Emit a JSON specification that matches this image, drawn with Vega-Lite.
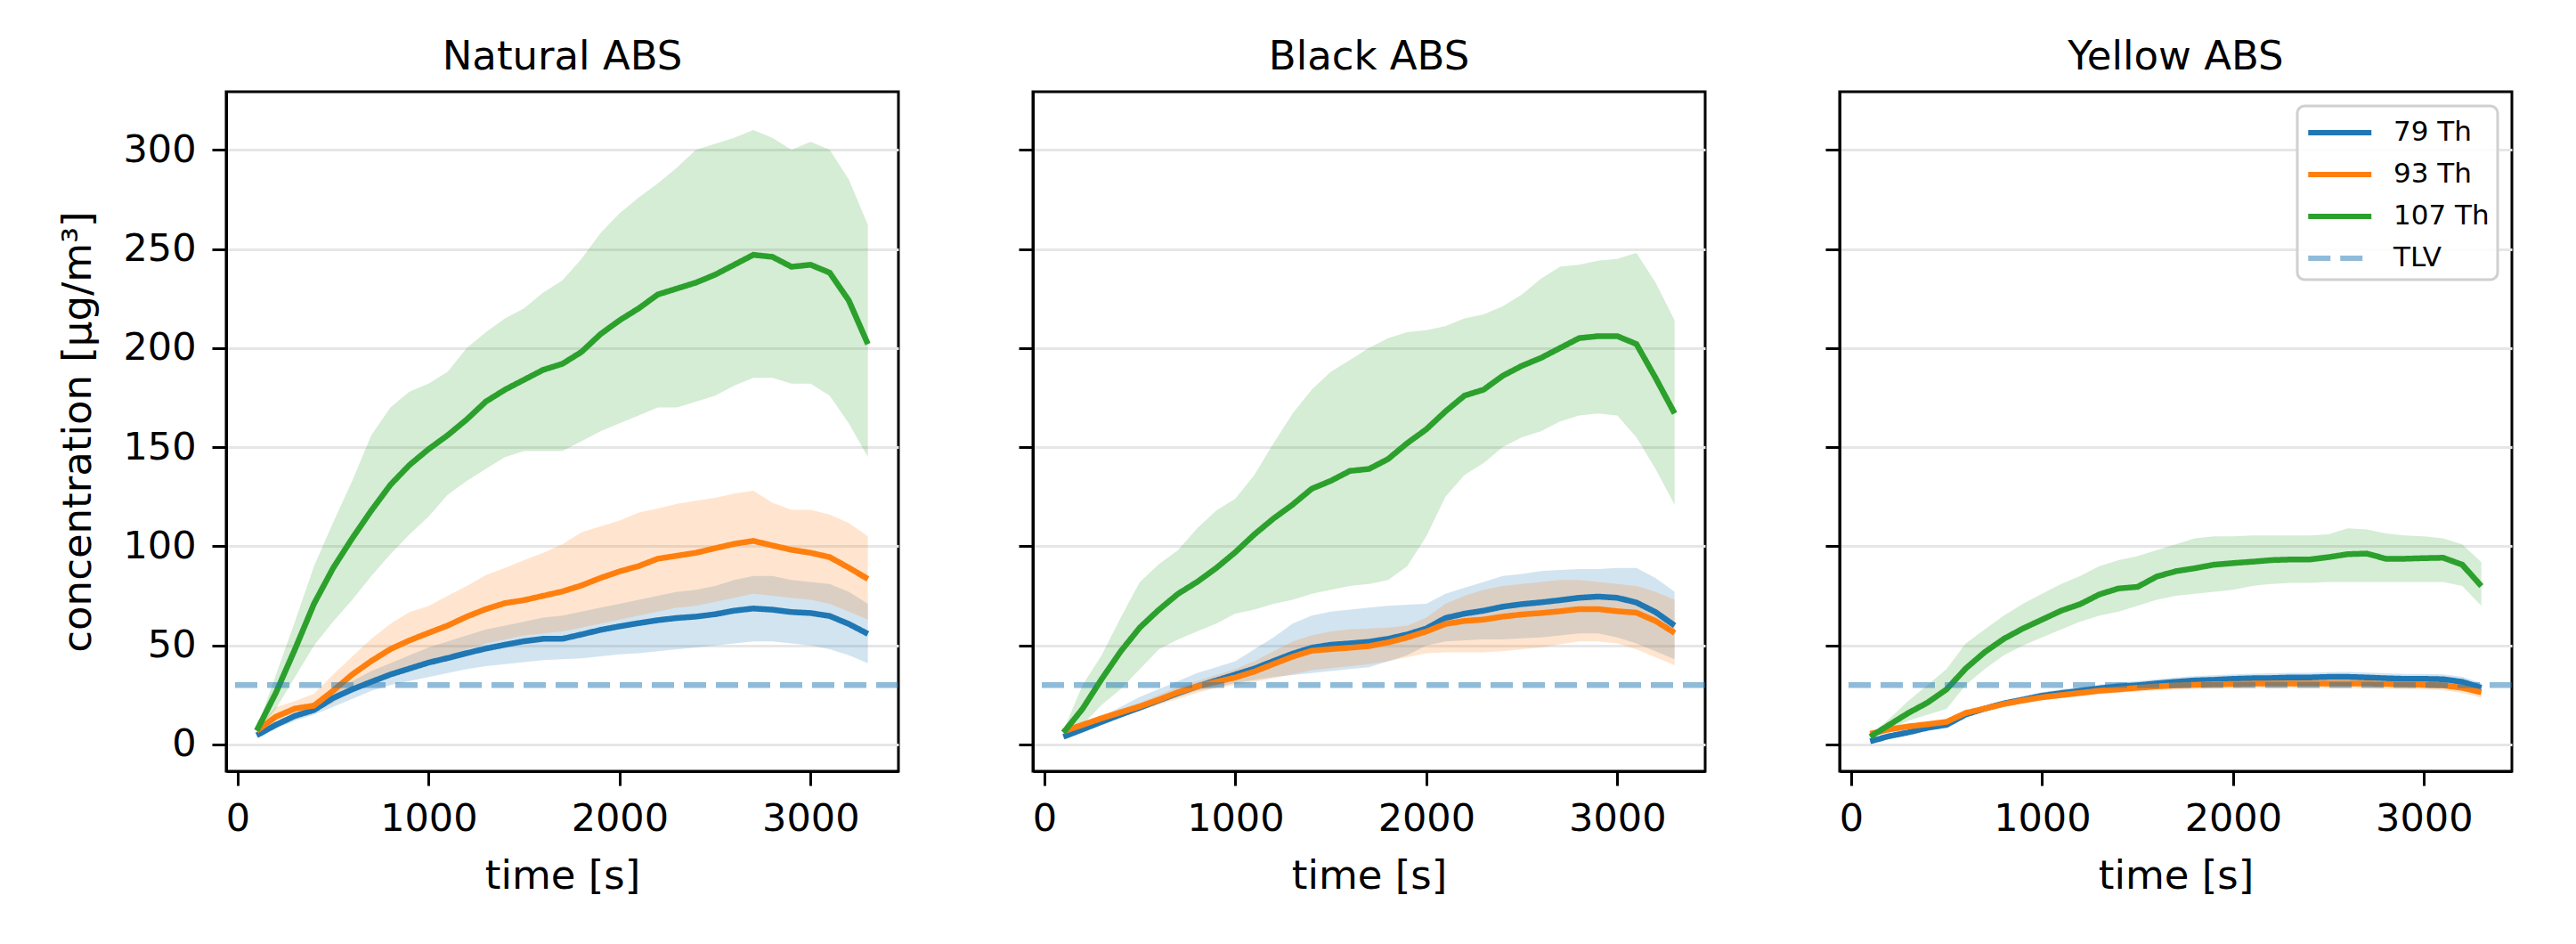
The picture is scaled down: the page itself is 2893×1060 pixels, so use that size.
{
"$schema": "https://vega.github.io/schema/vega-lite/v6.json",
"padding": {"left": 64, "top": 40, "right": 73, "bottom": 46},
"background": "white",
"config": {
  "font": "DejaVu Sans",
  "view": {"stroke": "black", "strokeWidth": 3},
  "axis": {"domainColor": "black", "domainWidth": 3, "tickColor": "black", "tickWidth": 3, "tickSize": 16,
           "labelFont": "DejaVu Sans", "labelFontSize": 43, "labelColor": "black",
           "titleFont": "DejaVu Sans", "titleFontSize": 45, "titleFontWeight": "normal", "titleColor": "black",
           "gridColor": "#e6e6e6", "gridWidth": 3},
  "title": {"font": "DejaVu Sans", "fontSize": 45, "fontWeight": "normal", "color": "black", "baseline": "alphabetic", "offset": 16}
},
"data": {"values": [
{"p":"Natural ABS","s":"79 Th","t":100,"m":4.6,"lo":3.5,"hi":5.5},
{"p":"Natural ABS","s":"79 Th","t":200,"m":9.9,"lo":8,"hi":11},
{"p":"Natural ABS","s":"79 Th","t":300,"m":14.4,"lo":12,"hi":16},
{"p":"Natural ABS","s":"79 Th","t":400,"m":17.4,"lo":15,"hi":19},
{"p":"Natural ABS","s":"79 Th","t":500,"m":23.4,"lo":19,"hi":27},
{"p":"Natural ABS","s":"79 Th","t":600,"m":27.8,"lo":23,"hi":32},
{"p":"Natural ABS","s":"79 Th","t":700,"m":31.6,"lo":27,"hi":37},
{"p":"Natural ABS","s":"79 Th","t":800,"m":35.3,"lo":30,"hi":41},
{"p":"Natural ABS","s":"79 Th","t":900,"m":38.3,"lo":32,"hi":45},
{"p":"Natural ABS","s":"79 Th","t":1000,"m":41.3,"lo":34,"hi":49},
{"p":"Natural ABS","s":"79 Th","t":1100,"m":43.6,"lo":36,"hi":52},
{"p":"Natural ABS","s":"79 Th","t":1200,"m":46.1,"lo":38,"hi":55},
{"p":"Natural ABS","s":"79 Th","t":1300,"m":48.4,"lo":39.5,"hi":58},
{"p":"Natural ABS","s":"79 Th","t":1400,"m":50.3,"lo":40.5,"hi":60},
{"p":"Natural ABS","s":"79 Th","t":1500,"m":52.1,"lo":41.5,"hi":62},
{"p":"Natural ABS","s":"79 Th","t":1600,"m":53.3,"lo":42.5,"hi":64},
{"p":"Natural ABS","s":"79 Th","t":1700,"m":53.3,"lo":43,"hi":65},
{"p":"Natural ABS","s":"79 Th","t":1800,"m":55.5,"lo":43.5,"hi":67},
{"p":"Natural ABS","s":"79 Th","t":1900,"m":57.8,"lo":44.5,"hi":69},
{"p":"Natural ABS","s":"79 Th","t":2000,"m":59.6,"lo":45.5,"hi":71},
{"p":"Natural ABS","s":"79 Th","t":2100,"m":61.2,"lo":46,"hi":73},
{"p":"Natural ABS","s":"79 Th","t":2200,"m":62.7,"lo":47,"hi":75},
{"p":"Natural ABS","s":"79 Th","t":2300,"m":63.8,"lo":48,"hi":77},
{"p":"Natural ABS","s":"79 Th","t":2400,"m":64.5,"lo":49,"hi":78},
{"p":"Natural ABS","s":"79 Th","t":2500,"m":65.7,"lo":50,"hi":80},
{"p":"Natural ABS","s":"79 Th","t":2600,"m":67.5,"lo":51,"hi":83},
{"p":"Natural ABS","s":"79 Th","t":2700,"m":68.6,"lo":52,"hi":85},
{"p":"Natural ABS","s":"79 Th","t":2800,"m":68.0,"lo":52,"hi":85},
{"p":"Natural ABS","s":"79 Th","t":2900,"m":66.8,"lo":51,"hi":83},
{"p":"Natural ABS","s":"79 Th","t":3000,"m":66.3,"lo":50,"hi":82},
{"p":"Natural ABS","s":"79 Th","t":3100,"m":64.8,"lo":48,"hi":81},
{"p":"Natural ABS","s":"79 Th","t":3200,"m":60.8,"lo":45,"hi":77},
{"p":"Natural ABS","s":"79 Th","t":3300,"m":55.8,"lo":41,"hi":71},
{"p":"Natural ABS","s":"93 Th","t":100,"m":6.9,"lo":5.5,"hi":8.4},
{"p":"Natural ABS","s":"93 Th","t":200,"m":14,"lo":12,"hi":18.9},
{"p":"Natural ABS","s":"93 Th","t":300,"m":18.1,"lo":14,"hi":21.9},
{"p":"Natural ABS","s":"93 Th","t":400,"m":19.6,"lo":16,"hi":25.6},
{"p":"Natural ABS","s":"93 Th","t":500,"m":27.1,"lo":21,"hi":35.3},
{"p":"Natural ABS","s":"93 Th","t":600,"m":35.3,"lo":27,"hi":44.3},
{"p":"Natural ABS","s":"93 Th","t":700,"m":42.1,"lo":32,"hi":53.3},
{"p":"Natural ABS","s":"93 Th","t":800,"m":48.1,"lo":36,"hi":60.8},
{"p":"Natural ABS","s":"93 Th","t":900,"m":52.5,"lo":39,"hi":66.8},
{"p":"Natural ABS","s":"93 Th","t":1000,"m":56.3,"lo":42,"hi":69.8},
{"p":"Natural ABS","s":"93 Th","t":1100,"m":60.0,"lo":45,"hi":75},
{"p":"Natural ABS","s":"93 Th","t":1200,"m":64.5,"lo":48,"hi":80},
{"p":"Natural ABS","s":"93 Th","t":1300,"m":68.3,"lo":51,"hi":85.5},
{"p":"Natural ABS","s":"93 Th","t":1400,"m":71.3,"lo":53,"hi":89},
{"p":"Natural ABS","s":"93 Th","t":1500,"m":72.8,"lo":55,"hi":93},
{"p":"Natural ABS","s":"93 Th","t":1600,"m":75.0,"lo":56,"hi":96.7},
{"p":"Natural ABS","s":"93 Th","t":1700,"m":77.2,"lo":57,"hi":101},
{"p":"Natural ABS","s":"93 Th","t":1800,"m":80.2,"lo":59,"hi":107},
{"p":"Natural ABS","s":"93 Th","t":1900,"m":84.0,"lo":61,"hi":110},
{"p":"Natural ABS","s":"93 Th","t":2000,"m":87.3,"lo":63,"hi":113},
{"p":"Natural ABS","s":"93 Th","t":2100,"m":90.0,"lo":65,"hi":117},
{"p":"Natural ABS","s":"93 Th","t":2200,"m":93.7,"lo":67,"hi":119},
{"p":"Natural ABS","s":"93 Th","t":2300,"m":95.2,"lo":69,"hi":121.4},
{"p":"Natural ABS","s":"93 Th","t":2400,"m":96.7,"lo":70,"hi":123},
{"p":"Natural ABS","s":"93 Th","t":2500,"m":99.0,"lo":72,"hi":124.4},
{"p":"Natural ABS","s":"93 Th","t":2600,"m":101.2,"lo":74,"hi":126.6},
{"p":"Natural ABS","s":"93 Th","t":2700,"m":102.7,"lo":76,"hi":128},
{"p":"Natural ABS","s":"93 Th","t":2800,"m":100.4,"lo":75,"hi":122},
{"p":"Natural ABS","s":"93 Th","t":2900,"m":98.2,"lo":74,"hi":118.4},
{"p":"Natural ABS","s":"93 Th","t":3000,"m":96.7,"lo":73,"hi":118.4},
{"p":"Natural ABS","s":"93 Th","t":3100,"m":94.5,"lo":71,"hi":116},
{"p":"Natural ABS","s":"93 Th","t":3200,"m":89.2,"lo":67,"hi":111.7},
{"p":"Natural ABS","s":"93 Th","t":3300,"m":83.5,"lo":63,"hi":105},
{"p":"Natural ABS","s":"107 Th","t":100,"m":7,"lo":6,"hi":8},
{"p":"Natural ABS","s":"107 Th","t":200,"m":26,"lo":18,"hi":35},
{"p":"Natural ABS","s":"107 Th","t":300,"m":48,"lo":34,"hi":62},
{"p":"Natural ABS","s":"107 Th","t":400,"m":71,"lo":50,"hi":90},
{"p":"Natural ABS","s":"107 Th","t":500,"m":89,"lo":62,"hi":112},
{"p":"Natural ABS","s":"107 Th","t":600,"m":104,"lo":73,"hi":133},
{"p":"Natural ABS","s":"107 Th","t":700,"m":118,"lo":85,"hi":156},
{"p":"Natural ABS","s":"107 Th","t":800,"m":131,"lo":96,"hi":170},
{"p":"Natural ABS","s":"107 Th","t":900,"m":141,"lo":106,"hi":178},
{"p":"Natural ABS","s":"107 Th","t":1000,"m":149,"lo":115,"hi":182},
{"p":"Natural ABS","s":"107 Th","t":1100,"m":156,"lo":126,"hi":188},
{"p":"Natural ABS","s":"107 Th","t":1200,"m":164,"lo":133,"hi":200},
{"p":"Natural ABS","s":"107 Th","t":1300,"m":173,"lo":139,"hi":208},
{"p":"Natural ABS","s":"107 Th","t":1400,"m":179,"lo":145,"hi":215},
{"p":"Natural ABS","s":"107 Th","t":1500,"m":184,"lo":148,"hi":220},
{"p":"Natural ABS","s":"107 Th","t":1600,"m":189,"lo":148,"hi":228},
{"p":"Natural ABS","s":"107 Th","t":1700,"m":192,"lo":148,"hi":234},
{"p":"Natural ABS","s":"107 Th","t":1800,"m":198,"lo":153,"hi":245},
{"p":"Natural ABS","s":"107 Th","t":1900,"m":207,"lo":158,"hi":258},
{"p":"Natural ABS","s":"107 Th","t":2000,"m":214,"lo":162,"hi":268},
{"p":"Natural ABS","s":"107 Th","t":2100,"m":220,"lo":166,"hi":276},
{"p":"Natural ABS","s":"107 Th","t":2200,"m":227,"lo":170,"hi":283},
{"p":"Natural ABS","s":"107 Th","t":2300,"m":230,"lo":170,"hi":291},
{"p":"Natural ABS","s":"107 Th","t":2400,"m":233,"lo":173,"hi":300},
{"p":"Natural ABS","s":"107 Th","t":2500,"m":237,"lo":176,"hi":303},
{"p":"Natural ABS","s":"107 Th","t":2600,"m":242,"lo":181,"hi":306},
{"p":"Natural ABS","s":"107 Th","t":2700,"m":247,"lo":185,"hi":310},
{"p":"Natural ABS","s":"107 Th","t":2800,"m":246,"lo":185,"hi":306},
{"p":"Natural ABS","s":"107 Th","t":2900,"m":241,"lo":182,"hi":300},
{"p":"Natural ABS","s":"107 Th","t":3000,"m":242,"lo":182,"hi":304},
{"p":"Natural ABS","s":"107 Th","t":3100,"m":238,"lo":176,"hi":300},
{"p":"Natural ABS","s":"107 Th","t":3200,"m":224,"lo":162,"hi":285},
{"p":"Natural ABS","s":"107 Th","t":3300,"m":202,"lo":145,"hi":262},
{"p":"Black ABS","s":"79 Th","t":100,"m":3.9,"lo":3,"hi":4.5},
{"p":"Black ABS","s":"79 Th","t":200,"m":7.6,"lo":6.5,"hi":9},
{"p":"Black ABS","s":"79 Th","t":300,"m":11.4,"lo":10,"hi":14},
{"p":"Black ABS","s":"79 Th","t":400,"m":15.1,"lo":13.5,"hi":19},
{"p":"Black ABS","s":"79 Th","t":500,"m":18.6,"lo":17,"hi":24},
{"p":"Black ABS","s":"79 Th","t":600,"m":22.3,"lo":20.5,"hi":28},
{"p":"Black ABS","s":"79 Th","t":700,"m":25.9,"lo":24,"hi":32},
{"p":"Black ABS","s":"79 Th","t":800,"m":29.3,"lo":27,"hi":36},
{"p":"Black ABS","s":"79 Th","t":900,"m":32.3,"lo":29,"hi":39},
{"p":"Black ABS","s":"79 Th","t":1000,"m":35.3,"lo":31,"hi":42},
{"p":"Black ABS","s":"79 Th","t":1100,"m":38.3,"lo":32.5,"hi":48},
{"p":"Black ABS","s":"79 Th","t":1200,"m":42.1,"lo":34,"hi":54},
{"p":"Black ABS","s":"79 Th","t":1300,"m":45.8,"lo":35,"hi":61},
{"p":"Black ABS","s":"79 Th","t":1400,"m":48.8,"lo":36,"hi":65},
{"p":"Black ABS","s":"79 Th","t":1500,"m":50.3,"lo":37,"hi":67},
{"p":"Black ABS","s":"79 Th","t":1600,"m":51.0,"lo":38,"hi":68},
{"p":"Black ABS","s":"79 Th","t":1700,"m":51.8,"lo":39,"hi":69},
{"p":"Black ABS","s":"79 Th","t":1800,"m":53.3,"lo":42,"hi":70},
{"p":"Black ABS","s":"79 Th","t":1900,"m":55.5,"lo":45,"hi":70.5},
{"p":"Black ABS","s":"79 Th","t":2000,"m":58.5,"lo":50,"hi":71},
{"p":"Black ABS","s":"79 Th","t":2100,"m":63.8,"lo":52,"hi":76},
{"p":"Black ABS","s":"79 Th","t":2200,"m":66.0,"lo":52.5,"hi":79},
{"p":"Black ABS","s":"79 Th","t":2300,"m":67.5,"lo":53,"hi":82},
{"p":"Black ABS","s":"79 Th","t":2400,"m":69.5,"lo":53,"hi":85},
{"p":"Black ABS","s":"79 Th","t":2500,"m":70.8,"lo":53.5,"hi":86},
{"p":"Black ABS","s":"79 Th","t":2600,"m":71.7,"lo":54,"hi":87.5},
{"p":"Black ABS","s":"79 Th","t":2700,"m":72.8,"lo":55,"hi":88},
{"p":"Black ABS","s":"79 Th","t":2800,"m":74.0,"lo":56,"hi":88.5},
{"p":"Black ABS","s":"79 Th","t":2900,"m":74.6,"lo":56,"hi":88.5},
{"p":"Black ABS","s":"79 Th","t":3000,"m":74.0,"lo":54,"hi":89},
{"p":"Black ABS","s":"79 Th","t":3100,"m":71.6,"lo":51,"hi":89},
{"p":"Black ABS","s":"79 Th","t":3200,"m":66.8,"lo":47,"hi":84},
{"p":"Black ABS","s":"79 Th","t":3300,"m":60.0,"lo":43,"hi":77},
{"p":"Black ABS","s":"93 Th","t":100,"m":6.6,"lo":6,"hi":7},
{"p":"Black ABS","s":"93 Th","t":200,"m":9.9,"lo":8.5,"hi":11},
{"p":"Black ABS","s":"93 Th","t":300,"m":13.2,"lo":11.5,"hi":15},
{"p":"Black ABS","s":"93 Th","t":400,"m":16.2,"lo":14,"hi":18},
{"p":"Black ABS","s":"93 Th","t":500,"m":19.2,"lo":17,"hi":21},
{"p":"Black ABS","s":"93 Th","t":600,"m":22.6,"lo":20,"hi":25},
{"p":"Black ABS","s":"93 Th","t":700,"m":26.3,"lo":23,"hi":29},
{"p":"Black ABS","s":"93 Th","t":800,"m":29.3,"lo":26,"hi":32},
{"p":"Black ABS","s":"93 Th","t":900,"m":31.6,"lo":28.5,"hi":35},
{"p":"Black ABS","s":"93 Th","t":1000,"m":33.8,"lo":30,"hi":38},
{"p":"Black ABS","s":"93 Th","t":1100,"m":36.8,"lo":31.5,"hi":42},
{"p":"Black ABS","s":"93 Th","t":1200,"m":40.6,"lo":33.5,"hi":47},
{"p":"Black ABS","s":"93 Th","t":1300,"m":44.3,"lo":35.5,"hi":52},
{"p":"Black ABS","s":"93 Th","t":1400,"m":47.3,"lo":37.5,"hi":55},
{"p":"Black ABS","s":"93 Th","t":1500,"m":48.1,"lo":38.5,"hi":57},
{"p":"Black ABS","s":"93 Th","t":1600,"m":48.8,"lo":39.5,"hi":58},
{"p":"Black ABS","s":"93 Th","t":1700,"m":49.6,"lo":40.5,"hi":58.5},
{"p":"Black ABS","s":"93 Th","t":1800,"m":51.5,"lo":42,"hi":59},
{"p":"Black ABS","s":"93 Th","t":1900,"m":54.0,"lo":44,"hi":60},
{"p":"Black ABS","s":"93 Th","t":2000,"m":57.0,"lo":46,"hi":64},
{"p":"Black ABS","s":"93 Th","t":2100,"m":60.8,"lo":46.5,"hi":71},
{"p":"Black ABS","s":"93 Th","t":2200,"m":62.3,"lo":46.5,"hi":75},
{"p":"Black ABS","s":"93 Th","t":2300,"m":63.0,"lo":46.5,"hi":78},
{"p":"Black ABS","s":"93 Th","t":2400,"m":64.5,"lo":47,"hi":80},
{"p":"Black ABS","s":"93 Th","t":2500,"m":65.6,"lo":48,"hi":81},
{"p":"Black ABS","s":"93 Th","t":2600,"m":66.3,"lo":49,"hi":82},
{"p":"Black ABS","s":"93 Th","t":2700,"m":67.2,"lo":50.5,"hi":83},
{"p":"Black ABS","s":"93 Th","t":2800,"m":68.3,"lo":52,"hi":83},
{"p":"Black ABS","s":"93 Th","t":2900,"m":68.3,"lo":52,"hi":82},
{"p":"Black ABS","s":"93 Th","t":3000,"m":67.2,"lo":51,"hi":81},
{"p":"Black ABS","s":"93 Th","t":3100,"m":66.5,"lo":48,"hi":80},
{"p":"Black ABS","s":"93 Th","t":3200,"m":62.3,"lo":44,"hi":77},
{"p":"Black ABS","s":"93 Th","t":3300,"m":56.3,"lo":40,"hi":73},
{"p":"Black ABS","s":"107 Th","t":100,"m":6,"lo":5,"hi":7},
{"p":"Black ABS","s":"107 Th","t":200,"m":18,"lo":10,"hi":30},
{"p":"Black ABS","s":"107 Th","t":300,"m":33,"lo":20,"hi":45},
{"p":"Black ABS","s":"107 Th","t":400,"m":47,"lo":28,"hi":64},
{"p":"Black ABS","s":"107 Th","t":500,"m":59,"lo":38,"hi":82},
{"p":"Black ABS","s":"107 Th","t":600,"m":68,"lo":48,"hi":91},
{"p":"Black ABS","s":"107 Th","t":700,"m":76,"lo":53,"hi":98},
{"p":"Black ABS","s":"107 Th","t":800,"m":82,"lo":57,"hi":109},
{"p":"Black ABS","s":"107 Th","t":900,"m":89,"lo":61,"hi":118},
{"p":"Black ABS","s":"107 Th","t":1000,"m":97,"lo":66,"hi":124},
{"p":"Black ABS","s":"107 Th","t":1100,"m":106,"lo":68,"hi":136},
{"p":"Black ABS","s":"107 Th","t":1200,"m":114,"lo":71,"hi":152},
{"p":"Black ABS","s":"107 Th","t":1300,"m":121,"lo":73,"hi":167},
{"p":"Black ABS","s":"107 Th","t":1400,"m":129,"lo":76,"hi":179},
{"p":"Black ABS","s":"107 Th","t":1500,"m":133,"lo":78,"hi":188},
{"p":"Black ABS","s":"107 Th","t":1600,"m":138,"lo":80,"hi":194},
{"p":"Black ABS","s":"107 Th","t":1700,"m":139,"lo":81,"hi":200},
{"p":"Black ABS","s":"107 Th","t":1800,"m":144,"lo":83,"hi":205},
{"p":"Black ABS","s":"107 Th","t":1900,"m":152,"lo":90,"hi":208},
{"p":"Black ABS","s":"107 Th","t":2000,"m":159,"lo":105,"hi":209},
{"p":"Black ABS","s":"107 Th","t":2100,"m":168,"lo":125,"hi":211},
{"p":"Black ABS","s":"107 Th","t":2200,"m":176,"lo":136,"hi":215},
{"p":"Black ABS","s":"107 Th","t":2300,"m":179,"lo":142,"hi":217},
{"p":"Black ABS","s":"107 Th","t":2400,"m":186,"lo":150,"hi":221},
{"p":"Black ABS","s":"107 Th","t":2500,"m":191,"lo":155,"hi":227},
{"p":"Black ABS","s":"107 Th","t":2600,"m":195,"lo":158,"hi":235},
{"p":"Black ABS","s":"107 Th","t":2700,"m":200,"lo":163,"hi":241},
{"p":"Black ABS","s":"107 Th","t":2800,"m":205,"lo":166,"hi":242},
{"p":"Black ABS","s":"107 Th","t":2900,"m":206,"lo":167,"hi":244},
{"p":"Black ABS","s":"107 Th","t":3000,"m":206,"lo":166,"hi":245},
{"p":"Black ABS","s":"107 Th","t":3100,"m":202,"lo":155,"hi":248},
{"p":"Black ABS","s":"107 Th","t":3200,"m":185,"lo":139,"hi":233},
{"p":"Black ABS","s":"107 Th","t":3300,"m":167,"lo":121,"hi":214},
{"p":"Yellow ABS","s":"79 Th","t":100,"m":1.6,"lo":1.2,"hi":2},
{"p":"Yellow ABS","s":"79 Th","t":200,"m":4.2,"lo":3.5,"hi":5},
{"p":"Yellow ABS","s":"79 Th","t":300,"m":6.1,"lo":5.2,"hi":7},
{"p":"Yellow ABS","s":"79 Th","t":400,"m":8.4,"lo":7.4,"hi":9.5},
{"p":"Yellow ABS","s":"79 Th","t":500,"m":9.9,"lo":8.8,"hi":11},
{"p":"Yellow ABS","s":"79 Th","t":600,"m":15.1,"lo":13.8,"hi":16.5},
{"p":"Yellow ABS","s":"79 Th","t":700,"m":18.1,"lo":16.7,"hi":19.6},
{"p":"Yellow ABS","s":"79 Th","t":800,"m":20.7,"lo":19.2,"hi":22.3},
{"p":"Yellow ABS","s":"79 Th","t":900,"m":22.6,"lo":21,"hi":24.3},
{"p":"Yellow ABS","s":"79 Th","t":1000,"m":24.6,"lo":22.9,"hi":26.4},
{"p":"Yellow ABS","s":"79 Th","t":1100,"m":25.9,"lo":24.2,"hi":27.8},
{"p":"Yellow ABS","s":"79 Th","t":1200,"m":27.1,"lo":25.3,"hi":29},
{"p":"Yellow ABS","s":"79 Th","t":1300,"m":28.3,"lo":26.5,"hi":30.2},
{"p":"Yellow ABS","s":"79 Th","t":1400,"m":29.3,"lo":27.4,"hi":31.3},
{"p":"Yellow ABS","s":"79 Th","t":1500,"m":29.9,"lo":28,"hi":32},
{"p":"Yellow ABS","s":"79 Th","t":1600,"m":30.8,"lo":28.8,"hi":32.9},
{"p":"Yellow ABS","s":"79 Th","t":1700,"m":31.6,"lo":29.5,"hi":33.8},
{"p":"Yellow ABS","s":"79 Th","t":1800,"m":32.3,"lo":30.2,"hi":34.5},
{"p":"Yellow ABS","s":"79 Th","t":1900,"m":32.6,"lo":30.5,"hi":34.9},
{"p":"Yellow ABS","s":"79 Th","t":2000,"m":33.1,"lo":30.9,"hi":35.4},
{"p":"Yellow ABS","s":"79 Th","t":2100,"m":33.4,"lo":31.2,"hi":35.7},
{"p":"Yellow ABS","s":"79 Th","t":2200,"m":33.5,"lo":31.2,"hi":35.9},
{"p":"Yellow ABS","s":"79 Th","t":2300,"m":33.8,"lo":31.5,"hi":36.2},
{"p":"Yellow ABS","s":"79 Th","t":2400,"m":33.8,"lo":31.5,"hi":36.2},
{"p":"Yellow ABS","s":"79 Th","t":2500,"m":34.1,"lo":31.7,"hi":36.5},
{"p":"Yellow ABS","s":"79 Th","t":2600,"m":34.1,"lo":31.7,"hi":36.6},
{"p":"Yellow ABS","s":"79 Th","t":2700,"m":33.8,"lo":31.4,"hi":36.3},
{"p":"Yellow ABS","s":"79 Th","t":2800,"m":33.4,"lo":31,"hi":35.9},
{"p":"Yellow ABS","s":"79 Th","t":2900,"m":33.1,"lo":30.7,"hi":35.6},
{"p":"Yellow ABS","s":"79 Th","t":3000,"m":33.1,"lo":30.7,"hi":35.6},
{"p":"Yellow ABS","s":"79 Th","t":3100,"m":32.9,"lo":30.5,"hi":35.4},
{"p":"Yellow ABS","s":"79 Th","t":3200,"m":31.6,"lo":29.2,"hi":34.1},
{"p":"Yellow ABS","s":"79 Th","t":3300,"m":28.6,"lo":26.4,"hi":31},
{"p":"Yellow ABS","s":"93 Th","t":100,"m":5.4,"lo":5,"hi":5.8},
{"p":"Yellow ABS","s":"93 Th","t":200,"m":7.6,"lo":7,"hi":8.2},
{"p":"Yellow ABS","s":"93 Th","t":300,"m":9.1,"lo":8.4,"hi":9.8},
{"p":"Yellow ABS","s":"93 Th","t":400,"m":10.2,"lo":9.4,"hi":11},
{"p":"Yellow ABS","s":"93 Th","t":500,"m":11.4,"lo":10.6,"hi":12.2},
{"p":"Yellow ABS","s":"93 Th","t":600,"m":15.9,"lo":14.8,"hi":17},
{"p":"Yellow ABS","s":"93 Th","t":700,"m":18.1,"lo":16.9,"hi":19.3},
{"p":"Yellow ABS","s":"93 Th","t":800,"m":20.4,"lo":19.1,"hi":21.7},
{"p":"Yellow ABS","s":"93 Th","t":900,"m":22.2,"lo":20.8,"hi":23.6},
{"p":"Yellow ABS","s":"93 Th","t":1000,"m":23.8,"lo":22.3,"hi":25.3},
{"p":"Yellow ABS","s":"93 Th","t":1100,"m":24.9,"lo":23.4,"hi":26.4},
{"p":"Yellow ABS","s":"93 Th","t":1200,"m":26.0,"lo":24.4,"hi":27.6},
{"p":"Yellow ABS","s":"93 Th","t":1300,"m":27.1,"lo":25.4,"hi":28.8},
{"p":"Yellow ABS","s":"93 Th","t":1400,"m":27.8,"lo":26,"hi":29.6},
{"p":"Yellow ABS","s":"93 Th","t":1500,"m":28.6,"lo":26.7,"hi":30.5},
{"p":"Yellow ABS","s":"93 Th","t":1600,"m":29.3,"lo":27.3,"hi":31.3},
{"p":"Yellow ABS","s":"93 Th","t":1700,"m":29.8,"lo":27.7,"hi":31.9},
{"p":"Yellow ABS","s":"93 Th","t":1800,"m":30.1,"lo":28,"hi":32.2},
{"p":"Yellow ABS","s":"93 Th","t":1900,"m":30.4,"lo":28.2,"hi":32.6},
{"p":"Yellow ABS","s":"93 Th","t":2000,"m":30.5,"lo":28.3,"hi":32.7},
{"p":"Yellow ABS","s":"93 Th","t":2100,"m":30.7,"lo":28.4,"hi":33},
{"p":"Yellow ABS","s":"93 Th","t":2200,"m":30.8,"lo":28.5,"hi":33.1},
{"p":"Yellow ABS","s":"93 Th","t":2300,"m":30.8,"lo":28.5,"hi":33.1},
{"p":"Yellow ABS","s":"93 Th","t":2400,"m":30.8,"lo":28.5,"hi":33.1},
{"p":"Yellow ABS","s":"93 Th","t":2500,"m":30.8,"lo":28.4,"hi":33.2},
{"p":"Yellow ABS","s":"93 Th","t":2600,"m":30.8,"lo":28.4,"hi":33.2},
{"p":"Yellow ABS","s":"93 Th","t":2700,"m":30.8,"lo":28.4,"hi":33.2},
{"p":"Yellow ABS","s":"93 Th","t":2800,"m":30.5,"lo":28.1,"hi":32.9},
{"p":"Yellow ABS","s":"93 Th","t":2900,"m":30.4,"lo":28,"hi":32.8},
{"p":"Yellow ABS","s":"93 Th","t":3000,"m":30.1,"lo":27.7,"hi":32.5},
{"p":"Yellow ABS","s":"93 Th","t":3100,"m":29.8,"lo":27.4,"hi":32.2},
{"p":"Yellow ABS","s":"93 Th","t":3200,"m":28.6,"lo":26,"hi":31.2},
{"p":"Yellow ABS","s":"93 Th","t":3300,"m":26.3,"lo":23.5,"hi":29},
{"p":"Yellow ABS","s":"107 Th","t":100,"m":3.9,"lo":3.5,"hi":4.5},
{"p":"Yellow ABS","s":"107 Th","t":200,"m":9.9,"lo":7.5,"hi":13},
{"p":"Yellow ABS","s":"107 Th","t":300,"m":15.9,"lo":12,"hi":22},
{"p":"Yellow ABS","s":"107 Th","t":400,"m":21.1,"lo":15,"hi":30},
{"p":"Yellow ABS","s":"107 Th","t":500,"m":27.8,"lo":18,"hi":38},
{"p":"Yellow ABS","s":"107 Th","t":600,"m":38.3,"lo":30,"hi":51},
{"p":"Yellow ABS","s":"107 Th","t":700,"m":46.6,"lo":38,"hi":58},
{"p":"Yellow ABS","s":"107 Th","t":800,"m":53.3,"lo":45,"hi":65},
{"p":"Yellow ABS","s":"107 Th","t":900,"m":58.5,"lo":50,"hi":71},
{"p":"Yellow ABS","s":"107 Th","t":1000,"m":63.0,"lo":54,"hi":76},
{"p":"Yellow ABS","s":"107 Th","t":1100,"m":67.5,"lo":58,"hi":81},
{"p":"Yellow ABS","s":"107 Th","t":1200,"m":70.8,"lo":62,"hi":85},
{"p":"Yellow ABS","s":"107 Th","t":1300,"m":75.7,"lo":65,"hi":90},
{"p":"Yellow ABS","s":"107 Th","t":1400,"m":78.7,"lo":67,"hi":93},
{"p":"Yellow ABS","s":"107 Th","t":1500,"m":79.5,"lo":70,"hi":95},
{"p":"Yellow ABS","s":"107 Th","t":1600,"m":84.7,"lo":73,"hi":98},
{"p":"Yellow ABS","s":"107 Th","t":1700,"m":87.4,"lo":75,"hi":101},
{"p":"Yellow ABS","s":"107 Th","t":1800,"m":88.9,"lo":76,"hi":104},
{"p":"Yellow ABS","s":"107 Th","t":1900,"m":90.7,"lo":77,"hi":105},
{"p":"Yellow ABS","s":"107 Th","t":2000,"m":91.5,"lo":78,"hi":105},
{"p":"Yellow ABS","s":"107 Th","t":2100,"m":92.2,"lo":80,"hi":105.5},
{"p":"Yellow ABS","s":"107 Th","t":2200,"m":93.0,"lo":81,"hi":105.5},
{"p":"Yellow ABS","s":"107 Th","t":2300,"m":93.3,"lo":81.5,"hi":105.5},
{"p":"Yellow ABS","s":"107 Th","t":2400,"m":93.3,"lo":81.5,"hi":105.5},
{"p":"Yellow ABS","s":"107 Th","t":2500,"m":94.5,"lo":82,"hi":106},
{"p":"Yellow ABS","s":"107 Th","t":2600,"m":96.0,"lo":82,"hi":109},
{"p":"Yellow ABS","s":"107 Th","t":2700,"m":96.3,"lo":82,"hi":108.5},
{"p":"Yellow ABS","s":"107 Th","t":2800,"m":93.7,"lo":82,"hi":106.5},
{"p":"Yellow ABS","s":"107 Th","t":2900,"m":93.7,"lo":82,"hi":105.5},
{"p":"Yellow ABS","s":"107 Th","t":3000,"m":94.0,"lo":82,"hi":105},
{"p":"Yellow ABS","s":"107 Th","t":3100,"m":94.2,"lo":82,"hi":104},
{"p":"Yellow ABS","s":"107 Th","t":3200,"m":90.7,"lo":80,"hi":101},
{"p":"Yellow ABS","s":"107 Th","t":3300,"m":79.9,"lo":70,"hi":92}
]},
"spacing": 151,
"bounds": "flush",
"resolve": {"scale": {"color": "independent", "fill": "independent", "strokeDash": "independent"}, "legend": {"color": "independent", "fill": "independent", "strokeDash": "independent"}},
"hconcat": [
 {
  "title": {"text": "Natural ABS"},
  "width": 755, "height": 763,
  "layer": [
   {"transform": [{"filter": "datum.p === 'Natural ABS'"}],
    "mark": {"type": "area", "opacity": 0.2},
    "encoding": {
     "x": {"field": "t", "type": "quantitative", "scale": {"domain": [-60, 3460], "nice": false, "zero": false}, "axis": {"values": [0, 1000, 2000, 3000], "format": "d", "grid": false, "title": "time [s]", "labelPadding": 16, "titlePadding": 20}},
     "y": {"field": "lo", "type": "quantitative", "stack": null, "scale": {"domain": [-13.5, 329.3], "nice": false, "zero": false}, "axis": {"values": [0, 50, 100, 150, 200, 250, 300], "grid": true, "title": "concentration [μg/m³]", "labelPadding": 18, "titlePadding": 27}},
     "y2": {"field": "hi"},
     "fill": {"field": "s", "type": "nominal", "scale": {"domain": ["79 Th", "93 Th", "107 Th"], "range": ["#1f77b4", "#ff7f0e", "#2ca02c"]}, "legend": null}
    }},
   {"transform": [{"filter": "datum.p === 'Natural ABS'"}],
    "mark": {"type": "line", "strokeWidth": 6.5},
    "encoding": {
     "x": {"field": "t", "type": "quantitative"},
     "y": {"field": "m", "type": "quantitative"},
     "color": {"field": "s", "type": "nominal", "scale": {"domain": ["79 Th", "93 Th", "107 Th", "TLV"], "range": ["#1f77b4", "#ff7f0e", "#2ca02c", "#8fbbd9"]}, "legend": null},
     "strokeDash": {"field": "s", "type": "nominal", "scale": {"domain": ["79 Th", "93 Th", "107 Th", "TLV"], "range": [[1, 0], [1, 0], [1, 0], [25, 11]]}, "legend": null}
    }},
   {"data": {"values": [{"p": "Natural ABS", "tlv": 30}]},
    "mark": {"type": "rule", "color": "#1f77b4", "opacity": 0.5, "strokeWidth": 6.5, "strokeDash": [25, 11]},
    "encoding": {"y": {"field": "tlv", "type": "quantitative"}}}
  ]
 },
 {
  "title": {"text": "Black ABS"},
  "width": 755, "height": 763,
  "layer": [
   {"transform": [{"filter": "datum.p === 'Black ABS'"}],
    "mark": {"type": "area", "opacity": 0.2},
    "encoding": {
     "x": {"field": "t", "type": "quantitative", "scale": {"domain": [-60, 3460], "nice": false, "zero": false}, "axis": {"values": [0, 1000, 2000, 3000], "format": "d", "grid": false, "title": "time [s]", "labelPadding": 16, "titlePadding": 20}},
     "y": {"field": "lo", "type": "quantitative", "stack": null, "scale": {"domain": [-13.5, 329.3], "nice": false, "zero": false}, "axis": {"values": [0, 50, 100, 150, 200, 250, 300], "grid": true, "title": null, "labels": false}},
     "y2": {"field": "hi"},
     "fill": {"field": "s", "type": "nominal", "scale": {"domain": ["79 Th", "93 Th", "107 Th"], "range": ["#1f77b4", "#ff7f0e", "#2ca02c"]}, "legend": null}
    }},
   {"transform": [{"filter": "datum.p === 'Black ABS'"}],
    "mark": {"type": "line", "strokeWidth": 6.5},
    "encoding": {
     "x": {"field": "t", "type": "quantitative"},
     "y": {"field": "m", "type": "quantitative"},
     "color": {"field": "s", "type": "nominal", "scale": {"domain": ["79 Th", "93 Th", "107 Th", "TLV"], "range": ["#1f77b4", "#ff7f0e", "#2ca02c", "#8fbbd9"]}, "legend": null},
     "strokeDash": {"field": "s", "type": "nominal", "scale": {"domain": ["79 Th", "93 Th", "107 Th", "TLV"], "range": [[1, 0], [1, 0], [1, 0], [25, 11]]}, "legend": null}
    }},
   {"data": {"values": [{"p": "Black ABS", "tlv": 30}]},
    "mark": {"type": "rule", "color": "#1f77b4", "opacity": 0.5, "strokeWidth": 6.5, "strokeDash": [25, 11]},
    "encoding": {"y": {"field": "tlv", "type": "quantitative"}}}
  ]
 },
 {
  "title": {"text": "Yellow ABS"},
  "width": 755, "height": 763,
  "layer": [
   {"transform": [{"filter": "datum.p === 'Yellow ABS'"}],
    "mark": {"type": "area", "opacity": 0.2},
    "encoding": {
     "x": {"field": "t", "type": "quantitative", "scale": {"domain": [-60, 3460], "nice": false, "zero": false}, "axis": {"values": [0, 1000, 2000, 3000], "format": "d", "grid": false, "title": "time [s]", "labelPadding": 16, "titlePadding": 20}},
     "y": {"field": "lo", "type": "quantitative", "stack": null, "scale": {"domain": [-13.5, 329.3], "nice": false, "zero": false}, "axis": {"values": [0, 50, 100, 150, 200, 250, 300], "grid": true, "title": null, "labels": false}},
     "y2": {"field": "hi"},
     "fill": {"field": "s", "type": "nominal", "scale": {"domain": ["79 Th", "93 Th", "107 Th"], "range": ["#1f77b4", "#ff7f0e", "#2ca02c"]}, "legend": null}
    }},
   {"transform": [{"filter": "datum.p === 'Yellow ABS'"}],
    "mark": {"type": "line", "strokeWidth": 6.5},
    "encoding": {
     "x": {"field": "t", "type": "quantitative"},
     "y": {"field": "m", "type": "quantitative"},
     "color": {"field": "s", "type": "nominal", "scale": {"domain": ["79 Th", "93 Th", "107 Th", "TLV"], "range": ["#1f77b4", "#ff7f0e", "#2ca02c", "#8fbbd9"]},
       "legend": {"title": null, "orient": "top-right", "offset": 16, "symbolType": "M-1,0L3,0", "symbolSize": 1260, "symbolStrokeWidth": 6, "symbolOpacity": 1, "labelFont": "DejaVu Sans", "labelFontSize": 31, "labelColor": "black", "labelOffset": 57, "rowPadding": 11, "padding": 9, "strokeColor": "#d0d0d0", "cornerRadius": 8, "fillColor": "rgba(255,255,255,0.85)", "encode": {"legend": {"update": {"strokeWidth": {"value": 3}}}}}},
     "strokeDash": {"field": "s", "type": "nominal", "scale": {"domain": ["79 Th", "93 Th", "107 Th", "TLV"], "range": [[1, 0], [1, 0], [1, 0], [25, 11]]},
       "legend": {"title": null, "orient": "top-right", "offset": 16, "symbolType": "M-1,0L3,0", "symbolSize": 1260, "symbolStrokeWidth": 6, "symbolOpacity": 1, "labelFont": "DejaVu Sans", "labelFontSize": 31, "labelColor": "black", "labelOffset": 57, "rowPadding": 11, "padding": 9, "strokeColor": "#d0d0d0", "cornerRadius": 8, "fillColor": "rgba(255,255,255,0.85)", "encode": {"legend": {"update": {"strokeWidth": {"value": 3}}}}}}
    }},
   {"data": {"values": [{"p": "Yellow ABS", "tlv": 30}]},
    "mark": {"type": "rule", "color": "#1f77b4", "opacity": 0.5, "strokeWidth": 6.5, "strokeDash": [25, 11]},
    "encoding": {"y": {"field": "tlv", "type": "quantitative"}}}
  ]
 }
]
}
